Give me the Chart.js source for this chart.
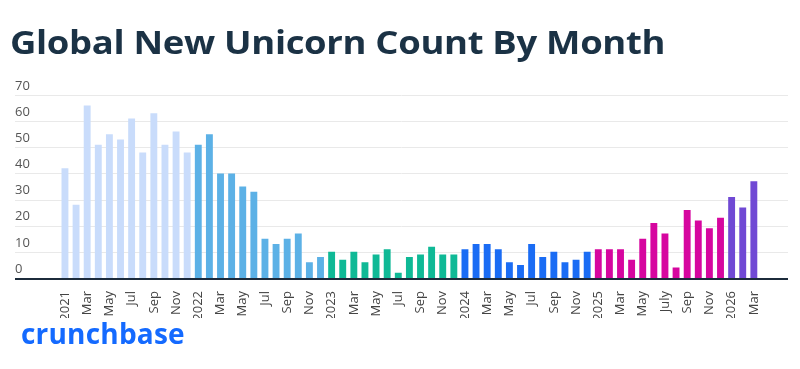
<!DOCTYPE html>
<html>
<head>
<meta charset="utf-8">
<script src="https://cdn.jsdelivr.net/npm/chart.js@4"></script>
<style>
  html, body { margin: 0; padding: 0; background: #ffffff; }
  #wrap { position: relative; width: 800px; height: 369px; overflow: hidden; }
  #title { position: absolute; left: 10px; top: 20px; font-family: 'Open Sans', sans-serif; font-weight: 700; font-size: 32px; line-height: 44px; color: #1b3245; white-space: nowrap; letter-spacing: -0.3px; transform: scaleX(1.14); transform-origin: 0 0; }
  #logo { position: absolute; left: 21px; top: 314px; font-family: 'Open Sans', sans-serif; font-weight: 700; font-size: 28px; line-height: 38px; color: #146aff; white-space: nowrap; letter-spacing: 0.2px; }
  #c { position: absolute; left: 0; top: 0; }
</style>
</head>
<body>
<div id="wrap">
  <canvas id="c" width="800" height="369"></canvas>
  <div id="title">Global New Unicorn Count By Month</div>
  <div id="logo">crunchbase</div>
</div>
<script>
// ---- data ----
const years = ['2021', '2022', '2023', '2024', '2025', '2026'];
const monthNames = ['Jan','Feb','Mar','Apr','May','Jun','Jul','Aug','Sep','Oct','Nov','Dec'];

const values2021 = [42, 28, 66, 51, 55, 53, 61, 48, 63, 51, 56, 48];
const values2022 = [51, 55, 40, 40, 35, 33, 15, 13, 15, 17, 6, 8];
const values2023 = [10, 7, 10, 6, 9, 11, 2, 8, 9, 12, 9, 9];
const values2024 = [11, 13, 13, 11, 6, 5, 13, 8, 10, 6, 7, 10];
const values2025 = [11, 11, 11, 7, 15, 21, 17, 4, 26, 22, 19, 23];
const values2026 = [31, 27, 37];

const ticks2021 = ['2021', '', 'Mar', '', 'May', '', 'Jul', '', 'Sep', '', 'Nov', ''];
const ticks2022 = ['2022', '', 'Mar', '', 'May', '', 'Jul', '', 'Sep', '', 'Nov', ''];
const ticks2023 = ['2023', '', 'Mar', '', 'May', '', 'Jul', '', 'Sep', '', 'Nov', ''];
const ticks2024 = ['2024', '', 'Mar', '', 'May', '', 'Jul', '', 'Sep', '', 'Nov', ''];
const ticks2025 = ['2025', '', 'Mar', '', 'May', '', 'July', '', 'Sep', '', 'Nov', ''];
const ticks2026 = ['2026', '', 'Mar'];

const yTicks = [0, 10, 20, 30, 40, 50, 60, 70];

const yearColors = ['#c9dcfb', '#5cb1e6', '#0fb996', '#1a6cf4', '#d6069f', '#7049d4'];

// ---- build ----
const valuesByYear = [values2021, values2022, values2023, values2024, values2025, values2026];
const ticksByYear = [ticks2021, ticks2022, ticks2023, ticks2024, ticks2025, ticks2026];
const categories = [];
const values = [];
const tickLabels = [];
const colors = [];
valuesByYear.forEach((arr, yi) => {
  arr.forEach((v, mi) => {
    categories.push(monthNames[mi] + ' ' + years[yi]);
    values.push(v);
    tickLabels.push(ticksByYear[yi][mi]);
    colors.push(yearColors[yi]);
  });
});

const GRID_LEFT = 15, GRID_RIGHT = 788;

const gridPlugin = {
  id: 'fullGrid',
  beforeDatasetsDraw(chart) {
    const y = chart.scales.y;
    const ctx = chart.ctx;
    ctx.save();
    ctx.strokeStyle = '#e9e9e9';
    ctx.lineWidth = 1;
    yTicks.forEach(t => {
      if (t === 0) return;
      const py = Math.round(y.getPixelForValue(t)) + 0.5;
      ctx.beginPath();
      ctx.moveTo(GRID_LEFT, py);
      ctx.lineTo(GRID_RIGHT, py);
      ctx.stroke();
    });
    ctx.restore();
  },
  afterDatasetsDraw(chart) {
    const y = chart.scales.y;
    const ctx = chart.ctx;
    ctx.save();
    ctx.strokeStyle = '#1c2b3b';
    ctx.lineWidth = 2;
    const py = y.getPixelForValue(0) + 1;
    ctx.beginPath();
    ctx.moveTo(GRID_LEFT, py);
    ctx.lineTo(GRID_RIGHT, py);
    ctx.stroke();
    ctx.restore();
  }
};

new Chart(document.getElementById('c'), {
  type: 'bar',
  data: {
    labels: categories,
    datasets: [{
      data: values,
      backgroundColor: colors,
      borderWidth: 0,
      categoryPercentage: 1,
      barPercentage: 0.62
    }]
  },
  options: {
    responsive: false,
    animation: false,
    devicePixelRatio: 1,
    layout: { padding: { left: 15, right: 40.6, top: 95, bottom: 51 } },
    plugins: { legend: { display: false }, tooltip: { enabled: false }, title: { display: false } },
    scales: {
      x: {
        grid: { display: false },
        border: { display: false },
        afterFit(scale) { scale.height = 40; },
        ticks: {
          autoSkip: false,
          minRotation: 90,
          maxRotation: 90,
          padding: 5,
          color: '#444444',
          font: { family: 'Open Sans', size: 13 },
          callback: (val, i) => tickLabels[i]
        }
      },
      y: {
        min: 0,
        max: 70,
        grid: { display: false },
        border: { display: false },
        afterFit(scale) { scale.width = 44.4; },
        afterBuildTicks(scale) { scale.ticks = yTicks.map(v => ({ value: v })); },
        ticks: {
          crossAlign: 'far',
          labelOffset: -9,
          padding: 0,
          color: '#555555',
          font: { family: 'Open Sans', size: 13 }
        }
      }
    }
  },
  plugins: [gridPlugin]
});
</script>
</body>
</html>
